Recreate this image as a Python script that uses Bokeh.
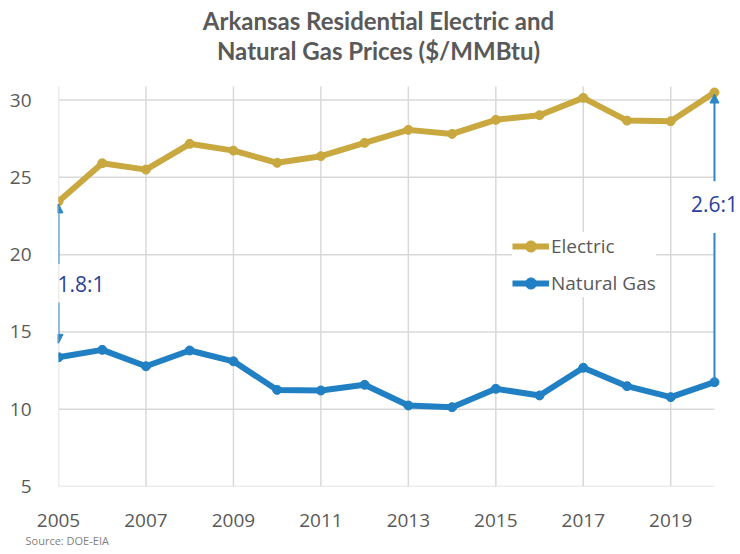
from bokeh.plotting import figure
from bokeh.models import FixedTicker, Label, Arrow, NormalHead, Legend, LegendItem, Range1d, Title
from bokeh.embed import file_html
from bokeh.resources import INLINE

years = list(range(2005, 2021))
electric = [23.43, 25.91, 25.50, 27.17, 26.73, 25.94, 26.37, 27.23,
            28.07, 27.81, 28.72, 29.02, 30.14, 28.67, 28.63, 30.49]
natural_gas = [13.36, 13.84, 12.78, 13.80, 13.10, 11.25, 11.21, 11.58,
               10.24, 10.13, 11.32, 10.89, 12.68, 11.49, 10.78, 11.75]
x_ticks = [2005, 2007, 2009, 2011, 2013, 2015, 2017, 2019]
y_ticks = [5, 10, 15, 20, 25, 30]
series_names = ["Electric", "Natural Gas"]
title_lines = ["Arkansas Residential Electric and", "Natural Gas Prices ($/MMBtu)"]
ratio_labels = ["1.8:1", "2.6:1"]
source_text = "Source: DOE-EIA"

ELEC = "#C9A83F"
GAS = "#2180C3"
ARROW = "#2E87C5"
RATIO_TXT = "#2C3F9C"
GREY = "#595959"
GRID = "#D9D9D9"

# plot area: frame spans to the top and right edge so that annotations are never clipped
GRID_TOP = 30.87
p = figure(width=740, height=554, output_backend="svg", toolbar_location=None,
           x_range=Range1d(2005, 2020.595), y_range=Range1d(5, 36.44),
           min_border_left=58, min_border_right=0, min_border_top=0, min_border_bottom=68)
p.outline_line_color = None
p.background_fill_color = "white"
p.title.text = ""

for ax in (p.xaxis[0], p.yaxis[0]):
    ax.axis_line_color = None
    ax.major_tick_line_color = None
    ax.minor_tick_line_color = None
    ax.major_label_text_font = "Open Sans"
    ax.major_label_text_font_size = "19px"
    ax.major_label_text_color = GREY
    ax.major_label_standoff = 21
p.xaxis.ticker = FixedTicker(ticks=x_ticks)
p.yaxis.ticker = FixedTicker(ticks=y_ticks)
p.xgrid.visible = False
p.ygrid.visible = False

x0, x1 = years[0], years[-1]
# gridlines limited to the chart box
p.segment(x0=[x0] * len(y_ticks), y0=y_ticks, x1=[x1] * len(y_ticks), y1=y_ticks,
          line_color=GRID, line_width=1.5)
p.segment(x0=x_ticks, y0=[y_ticks[0]] * len(x_ticks), x1=x_ticks, y1=[GRID_TOP] * len(x_ticks),
          line_color=GRID, line_width=1.5)

le = p.line(years, electric, line_color=ELEC, line_width=6)
se = p.scatter(years, electric, size=9, fill_color=ELEC, line_color=ELEC)
lg = p.line(years, natural_gas, line_color=GAS, line_width=6)
sg = p.scatter(years, natural_gas, size=9, fill_color=GAS, line_color=GAS)

legend = Legend(items=[LegendItem(label=series_names[0], renderers=[le, se]),
                       LegendItem(label=series_names[1], renderers=[lg, sg])],
                location=(454, 189), label_text_font="Open Sans", label_text_font_size="19px",
                label_text_color=GREY, glyph_width=37, glyph_height=28, label_height=28,
                label_standoff=2, spacing=9, padding=12, border_line_color=None,
                background_fill_color="white", background_fill_alpha=1.0)
p.add_layout(legend)

# ratio annotations
lab_y = [18.1, 23.3]
arrows = [
    (x0, lab_y[0] + 1.3, x0, electric[0] - 0.15, True),
    (x0, lab_y[0] - 1.2, x0, natural_gas[0] + 0.9, True),
    (x1, lab_y[1] + 1.45, x1, electric[-1] - 0.1, True),
    (x1, lab_y[1] - 1.9, x1, natural_gas[-1], False),
]
for xs, ys, xe, ye, head in arrows:
    p.add_layout(Arrow(x_start=xs, y_start=ys, x_end=xe, y_end=ye, line_color=ARROW, line_width=2,
                       end=NormalHead(size=9, fill_color=ARROW, line_color=ARROW) if head else None))

p.add_layout(Label(x=x0, y=lab_y[0], text=ratio_labels[0], x_offset=-1, text_align="left",
                   text_baseline="middle", text_font="Open Sans", text_font_size="21px",
                   text_color=RATIO_TXT))
p.add_layout(Label(x=x1, y=lab_y[1], text=ratio_labels[1], text_align="center",
                   text_baseline="middle", text_font="Open Sans", text_font_size="21px",
                   text_color=RATIO_TXT))

# two-line title (screen units measured from the frame's lower-left corner)
for i, t in enumerate(title_lines):
    p.add_layout(Label(x=320, y=466 - 30 * i, x_units="screen", y_units="screen", text=t,
                       text_align="center", text_baseline="middle", text_font="Lato",
                       text_font_style="bold", text_font_size="24px", text_color=GREY))

p.add_layout(Title(text=source_text, align="left", offset=-33, text_font="Open Sans",
                   text_font_size="11px", text_font_style="normal", text_color="#7F7F7F",
                   vertical_align="bottom", text_line_height=1.9, standoff=2), "below")

open("out.html", "w").write(file_html(p, INLINE))
